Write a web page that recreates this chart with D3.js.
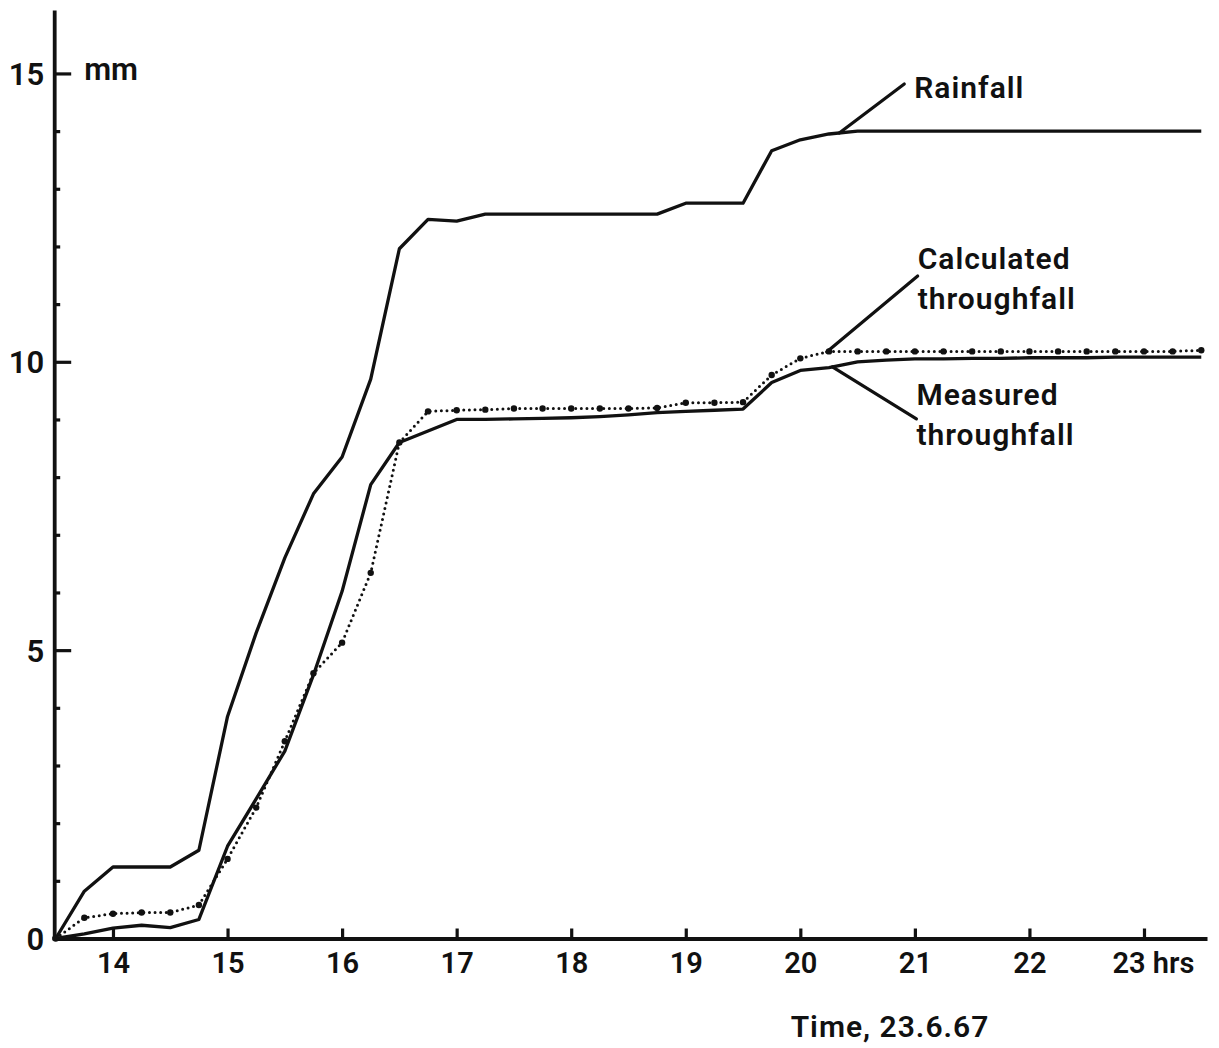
<!DOCTYPE html>
<html>
<head>
<meta charset="utf-8">
<script src="https://cdn.jsdelivr.net/npm/d3@7"></script>
<style>
  html, body { margin: 0; padding: 0; background: #fff; }
  svg { display: block; }
  text { font-family: Roboto, "Liberation Sans", sans-serif; font-weight: 600; fill: #111; }
</style>
</head>
<body>
<svg id="chart" width="1219" height="1048"></svg>
<script>
// Quarter-hour readings, 13.30 to 23.30 hrs, 23 June 1967 (cumulative mm)
const times = d3.range(13.5, 23.51, 0.25);

const rainfall = [
  0, 0.82, 1.24, 1.24, 1.24, 1.53, 3.85, 5.3, 6.6, 7.71,
  8.35, 9.7, 11.96, 12.47, 12.44, 12.56, 12.56, 12.56, 12.56, 12.56,
  12.56, 12.56, 12.75, 12.75, 12.75, 13.66, 13.85, 13.95, 14.0, 14.0,
  14.0, 14.0, 14.0, 14.0, 14.0, 14.0, 14.0, 14.0, 14.0, 14.0, 14.0
];

const measured = [
  0, 0.08, 0.18, 0.23, 0.19, 0.33, 1.6, 2.42, 3.25, 4.57,
  6.02, 7.87, 8.6, 8.8, 9.0, 9.0, 9.01, 9.02, 9.03, 9.05,
  9.08, 9.12, 9.14, 9.16, 9.18, 9.64, 9.85, 9.9, 10.0, 10.03,
  10.05, 10.05, 10.06, 10.06, 10.07, 10.07, 10.07, 10.08, 10.08, 10.08, 10.08
];

const calculated = [
  0, 0.36, 0.43, 0.45, 0.45, 0.58, 1.38, 2.27, 3.42, 4.6,
  5.13, 6.34, 8.6, 9.14, 9.16, 9.17, 9.19, 9.19, 9.19, 9.19,
  9.19, 9.2, 9.29, 9.29, 9.3, 9.77, 10.06, 10.18, 10.18, 10.18,
  10.18, 10.18, 10.18, 10.18, 10.18, 10.18, 10.18, 10.18, 10.18, 10.18, 10.2
];

const hourTicks = [14, 15, 16, 17, 18, 19, 20, 21, 22, 23];
const mmMajorTicks = [0, 5, 10, 15];
const mmMinorTicks = [1, 2, 3, 4, 6, 7, 8, 9, 11, 12, 13, 14];

// Series labels: name lines, the time at which the leader meets the curve,
// leader offset and text offset from the leader's end
const seriesLabels = [
  { lines: ["Rainfall"], values: rainfall, at: 20.34, dx: 65, dy: -49, tx: 10, ty: 14 },
  { lines: ["Calculated", "throughfall"], values: calculated, at: 20.23, dx: 91, dy: -76, tx: 0, ty: -7 },
  { lines: ["Measured", "throughfall"], values: measured, at: 20.28, dx: 84, dy: 52, tx: 0, ty: -14 }
];

const svg = d3.select("#chart");

const x = d3.scaleLinear().domain([13.5, 23.55]).range([55.7, 1207]);
const y = d3.scaleLinear().domain([0, 16.1]).range([938.5, 10]);

const valueAt = (vals, t) => {
  const i = Math.min(Math.floor((t - 13.5) / 0.25), vals.length - 2);
  const f = (t - times[i]) / 0.25;
  return vals[i] + (vals[i + 1] - vals[i]) * f;
};

// Y axis: major and minor ticks point into the plot
const yAxisX = x(13.5) - 1.5;
const yMinor = svg.append("g").attr("transform", `translate(${yAxisX},0)`)
  .call(d3.axisLeft(y).tickValues(mmMinorTicks).tickSize(-6).tickFormat(""));
yMinor.select(".domain").remove();

const yAxis = svg.append("g").attr("transform", `translate(${yAxisX},0)`)
  .call(d3.axisLeft(y).tickValues(mmMajorTicks).tickSize(-17).tickSizeOuter(0).tickPadding(10));
yAxis.selectAll("text").style("font-size", "31px").attr("dy", "0.36em");

svg.append("text").attr("x", yAxisX + 30).attr("y", y(15) + 7)
  .style("font-size", "31px").text("mm");

// X axis: ticks point up
const xAxis = svg.append("g").attr("transform", `translate(0,${y(0)})`)
  .call(d3.axisBottom(x).tickValues(hourTicks).tickSize(-10).tickSizeOuter(0).tickPadding(14)
    .tickFormat(d => d === 23 ? "23 hrs" : String(d)));
xAxis.selectAll("text").style("font-size", "29px");
xAxis.selectAll(".tick").filter(d => d === 23).select("text")
  .attr("text-anchor", "start").attr("x", -32);

svg.selectAll(".domain").attr("stroke", "#111").attr("stroke-width", 3.8);
svg.selectAll(".tick line").attr("stroke", "#111").attr("stroke-width", 3.2);
// extend x axis line back to the y axis
svg.append("line").attr("x1", yAxisX - 1.9).attr("x2", x(13.5) + 2)
  .attr("y1", y(0)).attr("y2", y(0)).attr("stroke", "#111").attr("stroke-width", 3.8);

svg.append("text").attr("x", 890).attr("y", 1037).attr("text-anchor", "middle")
  .style("font-size", "30px").style("letter-spacing", "1px").text("Time, 23.6.67");

// Curves
const line = d3.line().x((d, i) => x(times[i])).y(d => y(d));

svg.append("path").datum(rainfall).attr("d", line)
  .attr("fill", "none").attr("stroke", "#111").attr("stroke-width", 3.3).attr("stroke-linejoin", "round");

svg.append("path").datum(measured).attr("d", line)
  .attr("fill", "none").attr("stroke", "#111").attr("stroke-width", 3.3).attr("stroke-linejoin", "round");

svg.append("path").datum(calculated).attr("d", line)
  .attr("fill", "none").attr("stroke", "#111").attr("stroke-width", 3)
  .attr("stroke-linecap", "round").attr("stroke-dasharray", "0,5.6");

svg.append("g").selectAll("circle").data(calculated).join("circle")
  .attr("cx", (d, i) => x(times[i])).attr("cy", d => y(d)).attr("r", 3.2).attr("fill", "#111");

// Leader lines and labels
seriesLabels.forEach(s => {
  const x0 = x(s.at), y0 = y(valueAt(s.values, s.at));
  const x1 = x0 + s.dx, y1 = y0 + s.dy;
  svg.append("line").attr("x1", x0).attr("y1", y0).attr("x2", x1).attr("y2", y1)
    .attr("stroke", "#111").attr("stroke-width", 3.2).attr("stroke-linecap", "round");
  s.lines.forEach((t, k) => {
    svg.append("text").attr("x", x1 + s.tx).attr("y", y1 + s.ty + k * 40)
      .style("font-size", "30px").style("letter-spacing", "1px").text(t);
  });
});
</script>
</body>
</html>
